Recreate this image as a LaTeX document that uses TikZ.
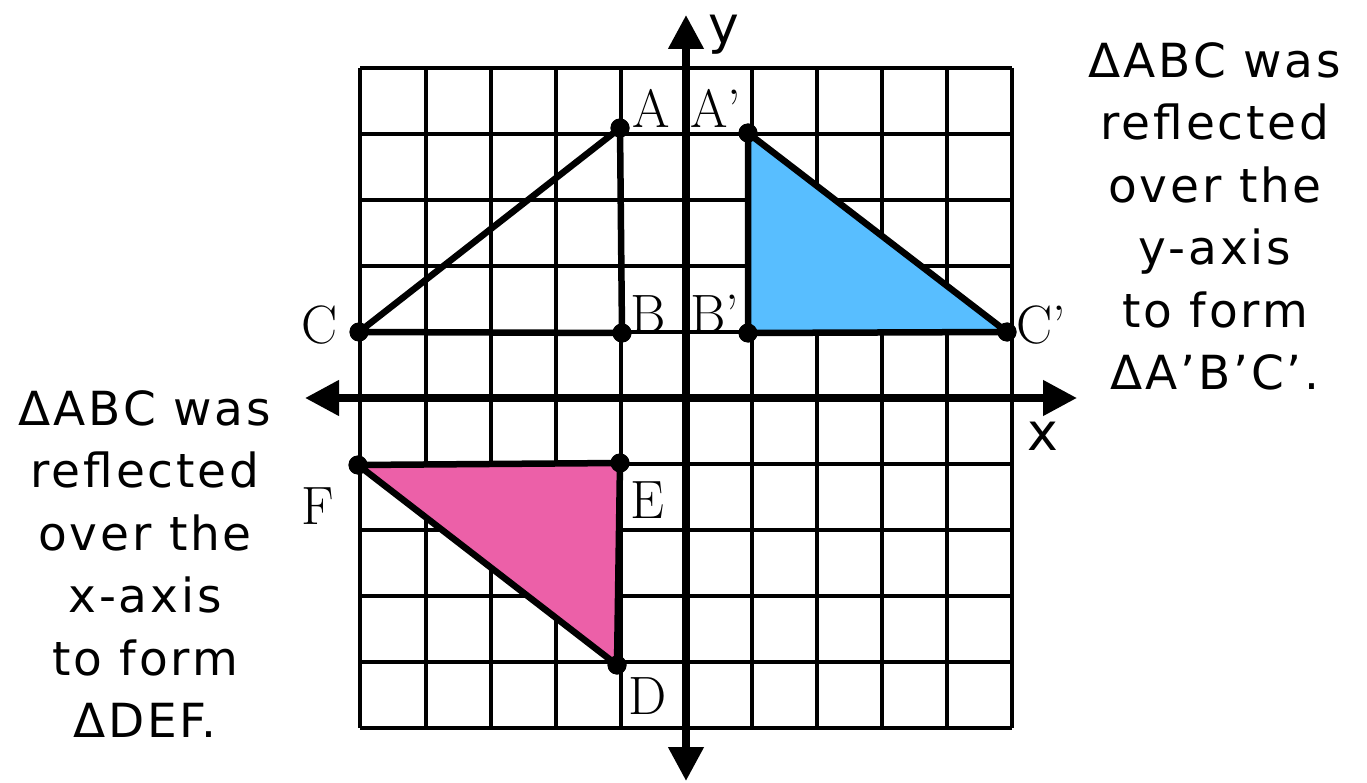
\documentclass[tikz,border=0pt]{standalone}
\usepackage{fontspec}
\newfontfamily\cfont[LetterSpace=6]{DejaVu Sans}
\newfontfamily\afont{DejaVu Sans}
\usetikzlibrary{arrows.meta}
\definecolor{triblue}{RGB}{88,190,255}
\definecolor{tripink}{RGB}{236,96,168}
\tikzset{
  gridline/.style={line width=3.4pt,black},
  axisline/.style={line width=7.5pt,black,-{Triangle[length=34pt,width=34pt]}},
  triedge/.style={line width=6.5pt,black,line join=round},
  vdot/.style={circle,fill=black,inner sep=0pt,minimum size=19pt},
  ptlabel/.style={inner sep=0pt,font=\fontsize{54}{60}\selectfont},
  note/.style={inner sep=0pt,align=center,font=\cfont\fontsize{47}{62.5}\selectfont},
  axlabel/.style={inner sep=0pt,font=\afont\fontsize{52}{60}\selectfont},
}
\begin{document}
\begin{tikzpicture}[x=1pt,y=-1pt]
\useasboundingbox (0,0) rectangle (1367,783);
% grid
\foreach \gx in {360,426,491,556,621,752,817,882,947,1012}
  \draw[gridline] (\gx,68) -- (\gx,728);
\foreach \gy in {68,134,200,266,332,464,530,596,662,728}
  \draw[gridline] (360,\gy) -- (1012,\gy);
% vertices
\node[vdot] (A) at (620,128) {};
\node[vdot] (B) at (622,333) {};
\node[vdot] (C) at (359,332) {};
\node[vdot] (Ap) at (748,133) {};
\node[vdot] (Bp) at (748,333) {};
\node[vdot] (Cp) at (1007,332) {};
\node[vdot] (D) at (617,665) {};
\node[vdot] (E) at (620,463) {};
\node[vdot] (F) at (358,465) {};
% triangles
\fill[triblue] (Ap.center) -- (Bp.center) -- (Cp.center) -- cycle;
\fill[tripink] (D.center) -- (E.center) -- (F.center) -- cycle;
\draw[gridline] (1012,266) -- (1012,332);
\draw[triedge] (A.center) -- (B.center) -- (C.center) -- cycle;
\draw[triedge] (Ap.center) -- (Bp.center) -- (Cp.center) -- cycle;
\draw[triedge] (D.center) -- (E.center) -- (F.center) -- cycle;
% axes
\coordinate (xl) at (305,398);
\coordinate (xr) at (1077,398);
\coordinate (yt) at (686,15);
\coordinate (yb) at (686,781);
\draw[axisline] (686,398) -- (xr);
\draw[axisline] (686,398) -- (xl);
\draw[axisline] (686,398) -- (yt);
\draw[axisline] (686,398) -- (yb);
% redraw dots on top
\foreach \p in {A,B,C,Ap,Bp,Cp,D,E,F}
  \fill (\p) circle (9.5pt);
% axis labels
\node[axlabel,anchor=base] (ylab) at (724,44) {y};
\node[axlabel,anchor=base] (xlab) at (1043,450) {x};
% point labels
\node[ptlabel,anchor=base west] (lA) at (632,128) {A};
\node[ptlabel,anchor=base west] (lAp) at (690,128) {A’};
\node[ptlabel,anchor=base west] (lB) at (630,332) {B};
\node[ptlabel,anchor=base west] (lBp) at (690,332) {B’};
\node[ptlabel,anchor=base east] (lC) at (338,344) {C};
\node[ptlabel,anchor=base west] (lCp) at (1016,344) {C’};
\node[ptlabel,anchor=base west] (lE) at (630,518) {E};
\node[ptlabel,anchor=base east] (lF) at (334,524) {F};
\node[ptlabel,anchor=base west] (lD) at (628,714) {D};
% notes
\node[note,anchor=north] (nr) at (1215,42) {ΔABC was\\reflected\\over the\\y-axis\\to form\\ΔA’B’C’.};
\node[note,anchor=north] (nl) at (145,390) {ΔABC was\\reflected\\over the\\x-axis\\to form\\ΔDEF.};
\end{tikzpicture}
\end{document}
